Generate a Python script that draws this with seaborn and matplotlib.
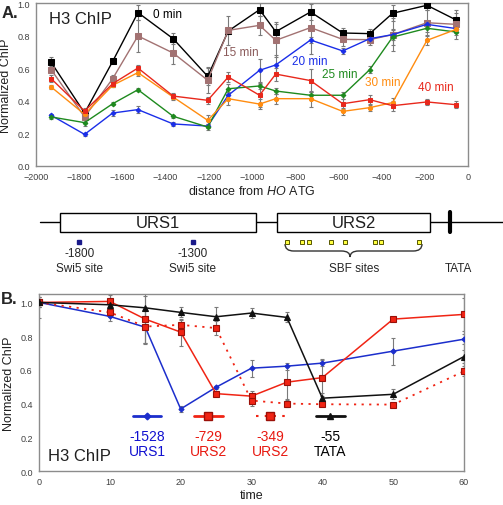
import numpy as np
import pandas as pd
import matplotlib
matplotlib.use("Agg")
import matplotlib.pyplot as plt
from matplotlib.lines import Line2D
from matplotlib.patches import Rectangle, PathPatch
from matplotlib.path import Path
import seaborn as sns

# ---------------- data: panel A ----------------
positions = [-1930, -1775, -1645, -1528, -1365, -1205, -1110, -965, -890, -729, -580, -455, -349, -190, -55]
min0 = [0.636, 0.325, 0.642, 0.941, 0.781, 0.550, 0.828, 0.959, 0.824, 0.945, 0.816, 0.812, 0.937, 0.986, 0.896]
min15 = [0.591, 0.301, 0.536, 0.798, 0.693, 0.526, 0.832, 0.863, 0.771, 0.849, 0.777, 0.775, 0.806, 0.879, 0.869]
min20 = [0.311, 0.194, 0.325, 0.346, 0.258, 0.245, 0.434, 0.587, 0.620, 0.773, 0.706, 0.781, 0.806, 0.869, 0.843]
min25 = [0.301, 0.266, 0.382, 0.468, 0.305, 0.239, 0.474, 0.491, 0.460, 0.434, 0.434, 0.591, 0.791, 0.845, 0.822]
min30 = [0.485, 0.317, 0.495, 0.573, 0.423, 0.280, 0.413, 0.380, 0.413, 0.413, 0.335, 0.358, 0.389, 0.771, 0.838]
min40 = [0.536, 0.337, 0.505, 0.601, 0.429, 0.403, 0.546, 0.434, 0.564, 0.524, 0.382, 0.407, 0.370, 0.393, 0.376]
err0 = [0.03, 0.02, 0.01, 0.045, 0.035, 0.05, 0.02, 0.04, 0.06, 0.05, 0.03, 0.03, 0.05, 0.03, 0.04]
err15 = [0.02, 0.03, 0.02, 0.10, 0.07, 0.08, 0.09, 0.06, 0.10, 0.16, 0.04, 0.03, 0.10, 0.08, 0.09]
err20 = [0.01, 0.01, 0.02, 0.02, 0.01, 0.01, 0.02, 0.07, 0.06, 0.02, 0.02, 0.02, 0.03, 0.02, 0.02]
err25 = [0.01, 0.02, 0.01, 0.01, 0.01, 0.02, 0.03, 0.02, 0.02, 0.02, 0.02, 0.02, 0.05, 0.02, 0.02]
err30 = [0.01, 0.02, 0.01, 0.02, 0.02, 0.03, 0.04, 0.03, 0.03, 0.05, 0.02, 0.02, 0.03, 0.03, 0.02]
err40 = [0.02, 0.02, 0.02, 0.02, 0.02, 0.02, 0.03, 0.07, 0.04, 0.07, 0.03, 0.03, 0.03, 0.02, 0.02]
series_A = ["0 min", "15 min", "20 min", "25 min", "30 min", "40 min"]

# ---------------- data: diagram ----------------
urs1_span = (-1890, -980)
urs2_span = (-885, -175)
tata_pos = -83
swi5_sites = [-1800, -1275]
swi5_labels = ["-1800", "-1300"]
sbf_sites = [-838, -769, -736, -634, -569, -431, -403, -227]

# ---------------- data: panel B ----------------
times = [0, 10, 15, 20, 25, 30, 35, 40, 50, 60]
b_1528 = [1.0, 0.917, 0.853, 0.368, 0.497, 0.610, 0.622, 0.640, 0.711, 0.782]
b_729 = [1.0, 1.006, 0.901, 0.824, 0.459, 0.444, 0.527, 0.554, 0.901, 0.929]
b_349 = [1.0, 0.941, 0.857, 0.867, 0.848, 0.418, 0.400, 0.396, 0.394, 0.592]
b_55 = [1.0, 0.986, 0.968, 0.941, 0.915, 0.937, 0.911, 0.432, 0.455, 0.679]
e_1528 = [0.03, 0.03, 0.10, 0.02, 0.01, 0.05, 0.02, 0.02, 0.08, 0.03]
e_729 = [0.03, 0.06, 0.14, 0.08, 0.01, 0.03, 0.10, 0.11, 0.01, 0.10]
e_349 = [0.03, 0.03, 0.10, 0.03, 0.04, 0.03, 0.02, 0.01, 0.01, 0.03]
e_55 = [0.09, 0.06, 0.10, 0.03, 0.06, 0.03, 0.03, 0.03, 0.03, 0.04]
legend_B_pos = ["-1528", "-729", "-349", "-55"]
legend_B_reg = ["URS1", "URS2", "URS2", "TATA"]

# ---------------- style ----------------
sns.set_theme(style="white")
plt.rcParams["font.family"] = ["Liberation Sans", "DejaVu Sans"]
plt.rcParams["mathtext.fontset"] = "custom"
plt.rcParams["mathtext.it"] = "Liberation Sans:italic"
plt.rcParams["mathtext.rm"] = "Liberation Sans"

FRAME = "#8c8c8c"
TICKC = "#404040"
ECOL = "#7a7a7a"

fig = plt.figure(figsize=(5.03, 5.06), dpi=100)

def px_ax(l, t, r, b):
    W, H = 503.0, 506.0
    return fig.add_axes([l / W, 1 - b / H, (r - l) / W, (b - t) / H])

def style_axes(ax):
    for s in ax.spines.values():
        s.set_color(FRAME)
        s.set_linewidth(1.0)
    ax.tick_params(axis="both", colors=FRAME, labelcolor=TICKC, labelsize=6.5,
                   length=2.5, width=0.8, direction="out", pad=2)

# ---------------- Panel A ----------------
axA = px_ax(36, 4, 468, 167)
colorsA = ["#000000", "#a27272", "#1a2ee8", "#1e8a1e", "#ff8c10", "#e8281c"]
markersA = ["s", "s", "D", "D", "o", "s"]
msA = [4.3, 4.3, 2.4, 2.4, 3.0, 2.6]
valsA = [min0, min15, min20, min25, min30, min40]
errsA = [err0, err15, err20, err25, err30, err40]
rows = []
for name, v in zip(series_A, valsA):
    for p, y in zip(positions, v):
        rows.append({"pos": p, "val": y, "series": name})
dfA = pd.DataFrame(rows)

for name, c, m, ms, e in zip(series_A, colorsA, markersA, msA, errsA):
    sub = dfA[dfA.series == name]
    axA.errorbar(sub.pos, sub.val, yerr=e, fmt="none", ecolor=ECOL,
                 elinewidth=0.8, capsize=1.5, capthick=0.8, zorder=1)
    sns.lineplot(data=sub, x="pos", y="val", color=c, marker=m, markersize=ms,
                 markeredgecolor=c, linewidth=1.0, ax=axA, zorder=3,
                 estimator=None, sort=False)

axA.set_xlim(-2000, 0)
axA.set_ylim(0, 1.0)
axA.set_xticks(np.arange(-2000, 1, 200))
axA.set_yticks(np.arange(0, 1.01, 0.2))
axA.yaxis.set_major_formatter(matplotlib.ticker.FormatStrFormatter("%.1f"))
style_axes(axA)
axA.set_ylabel("Normalized ChIP", fontsize=9, labelpad=4, color="#202020")
axA.set_xlabel(r"distance from $\mathit{HO}$ ATG", fontsize=9, labelpad=2, color="#202020")
axA.text(0.03, 0.88, "H3 ChIP", transform=axA.transAxes, fontsize=12, color="#202020")
lab_pos = [(-1389, 0.933), (-1051, 0.70), (-731, 0.644), (-593, 0.564), (-394, 0.515), (-148, 0.485)]
for name, c, (lx, ly) in zip(series_A, colorsA, lab_pos):
    col = "#8a5a5a" if name == "15 min" else c
    axA.text(lx, ly, name, color=col, fontsize=8.5, ha="center", va="center")
fig.text(2 / 503, 1 - 14 / 506, "A.", fontsize=12, fontweight="bold", va="center")

# ---------------- diagram ----------------
axD = px_ax(36, 200, 468, 290)
axD.set_xlim(-2000, 0)
axD.set_ylim(290, 200)
axD.axis("off")
axD.plot([-1981, 165], [223, 223], color="black", lw=1.0, clip_on=False, zorder=1)
for (a, b), lab in zip([urs1_span, urs2_span], ["URS1", "URS2"]):
    axD.add_patch(Rectangle((a, 214), b - a, 19, facecolor="white", edgecolor="black",
                            lw=1.0, zorder=2))
    axD.text((a + b) / 2, 223.5, lab, ha="center", va="center", fontsize=12, color="#202020")
axD.plot([tata_pos, tata_pos], [213, 233], color="black", lw=3, zorder=3)
axD.text(tata_pos + 40, 269, "TATA", ha="center", va="center", fontsize=8.5)
for s, lab in zip(swi5_sites, swi5_labels):
    axD.plot(s, 243, marker="s", ms=3.0, color="#1a1a8a", mec="#1a1a8a", zorder=3)
    axD.text(s, 254, lab, ha="center", va="center", fontsize=8.5)
    axD.text(s, 269, "Swi5 site", ha="center", va="center", fontsize=8.5)
for s in sbf_sites:
    axD.plot(s, 243, marker="s", ms=3.2, color="#ffff40", mec="#555500", mew=0.7, zorder=3)
# brace
bl, bm, br = -847, -546, -213
codes = [Path.MOVETO, Path.CURVE3, Path.CURVE3, Path.LINETO,
         Path.LINETO, Path.CURVE3, Path.CURVE3,
         Path.CURVE3, Path.CURVE3, Path.LINETO,
         Path.LINETO, Path.CURVE3, Path.CURVE3]
verts = [(bl, 245), (bl, 252), (bl + 40, 252), (bm - 40, 252),
         (bm - 40, 252), (bm, 252), (bm, 258),
         (bm, 252), (bm + 40, 252), (br - 40, 252),
         (br - 40, 252), (br, 252), (br, 245)]
axD.add_patch(PathPatch(Path(verts, codes), facecolor="none", edgecolor="#333333", lw=1.0))
axD.text(bm + 20, 269, "SBF sites", ha="center", va="center", fontsize=8.5)

# ---------------- Panel B ----------------
axB = px_ax(39, 295, 464, 472)
seriesB = [b_1528, b_729, b_349, b_55]
errB = [e_1528, e_729, e_349, e_55]
colorsB = ["#1c2ecc", "#f02414", "#f02414", "#111111"]
mecB = ["#1c2ecc", "#9a1008", "#9a1008", "#111111"]
markersB = ["D", "s", "s", "^"]
msB = [2.6, 4.3, 4.3, 3.8]
lsB = ["-", "-", (0, (1.2, 3.0)), "-"]
dfB = pd.DataFrame({"time": times * 4,
                    "val": sum(seriesB, []),
                    "probe": sum([[p] * len(times) for p in legend_B_pos], [])})
for p, v, e, c, mc, m, ms, ls in zip(legend_B_pos, seriesB, errB, colorsB, mecB, markersB, msB, lsB):
    sub = dfB[dfB.probe == p]
    axB.errorbar(sub.time, sub.val, yerr=e, fmt="none", ecolor=ECOL,
                 elinewidth=0.8, capsize=1.5, capthick=0.8, zorder=1)
    sns.lineplot(data=sub, x="time", y="val", color=c, marker=m, markersize=ms,
                 markeredgecolor=mc, markeredgewidth=0.8, linewidth=1.1 if ls == "-" else 1.3,
                 linestyle=ls, ax=axB, zorder=3, estimator=None, sort=False)
axB.set_xlim(0, 60)
axB.set_ylim(0, 1.05)
axB.set_xticks(np.arange(0, 61, 10))
axB.set_yticks(np.arange(0, 1.01, 0.2))
axB.yaxis.set_major_formatter(matplotlib.ticker.FormatStrFormatter("%.1f"))
style_axes(axB)
axB.set_ylabel("Normalized ChIP", fontsize=9, labelpad=4, color="#202020")
axB.set_xlabel("time", fontsize=9, labelpad=2, color="#202020")
axB.text(0.02, 0.06, "H3 ChIP", transform=axB.transAxes, fontsize=12, color="#202020")
leg_x = [0.254, 0.398, 0.544, 0.685]
txtB = ["#1010d0", "#e81810", "#e81810", "#000000"]
for x0, p, r, c, mc, m, ms, ls, tc in zip(leg_x, legend_B_pos, legend_B_reg, colorsB, mecB,
                                         markersB, msB, lsB, txtB):
    axB.add_line(Line2D([x0 - 0.034, x0 + 0.034], [0.31, 0.31], transform=axB.transAxes,
                        color=c, lw=2.0 if ls == "-" else 1.5, ls=ls, marker=None))
    axB.add_line(Line2D([x0], [0.31], transform=axB.transAxes, color=c, marker=m,
                        ms=ms + 0.8, mec=mc, ls="none"))
    axB.text(x0, 0.20, p, transform=axB.transAxes, ha="center", va="center", fontsize=10, color=tc)
    axB.text(x0, 0.115, r, transform=axB.transAxes, ha="center", va="center", fontsize=10, color=tc)
fig.text(1 / 503, 1 - 300 / 506, "B.", fontsize=12, fontweight="bold", va="center")

fig.savefig("out.png", dpi=100)
